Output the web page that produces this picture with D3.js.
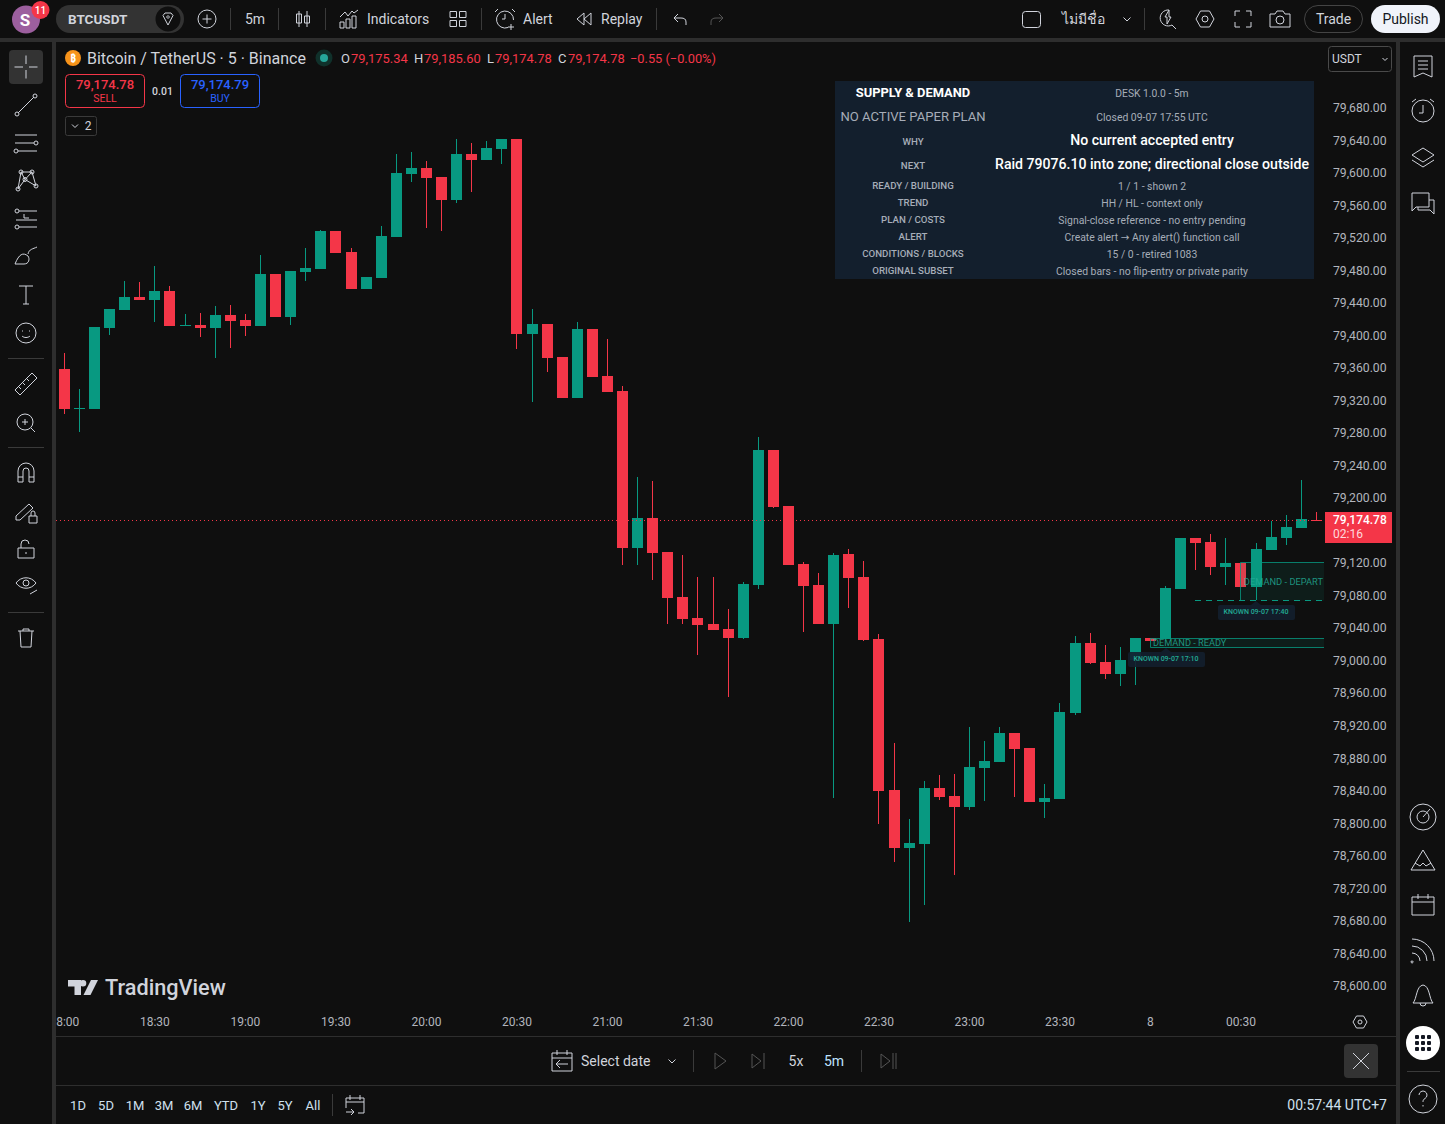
<!DOCTYPE html>
<html>
<head>
<meta charset="utf-8">
<script src="https://cdn.jsdelivr.net/npm/d3@7"></script>
<style>
html, body { margin: 0; padding: 0; background: #0f0f0f; overflow: hidden; }
svg { display: block; font-family: Roboto, "Noto Sans", "DejaVu Sans", sans-serif; }
.icon { fill: none; stroke: #d1d4dc; stroke-width: 1; }
.axis path, .axis line { display: none; }
</style>
</head>
<body>
<div id="chart"></div>
<script>
// BTCUSDT 5m bars, 18:00 to 00:55
const openPrices = [79361.1, 79311.9, 79311.9, 79411.6, 79433.7, 79449.7, 79446, 79457.1, 79414, 79415.3, 79411.6, 79427.6, 79421.4, 79414, 79478, 79425.1, 79480.4, 79484.1, 79530.9, 79505, 79459.5, 79473.1, 79523.5, 79601, 79608.4, 79597.3, 79569, 79625.6, 79618.2, 79631.7, 79644, 79404.2, 79416.5, 79375.9, 79325.5, 79410.3, 79352.5, 79334.1, 79141, 79177.9, 79136, 79080.7, 79054.9, 79047.5, 79041.3, 79030.3, 79095.5, 79261.5, 79192.6, 79121.3, 79095.5, 79047.5, 79133.6, 79105.3, 79029, 78843.3, 78772, 78776.9, 78845.8, 78835.9, 78822.4, 78870.4, 78877.7, 78913.4, 78895, 78828.5, 78832.2, 78938, 79024.1, 79000.7, 78986, 79003.2, 79030.3, 79029, 79090.5, 79153.3, 79148.3, 79117.6, 79122.5, 79093, 79138.5, 79153.3, 79165.6, 79175.34];
const highPrices = [79380.8, 79336.5, 79412.8, 79434.9, 79469.4, 79468.1, 79487.8, 79463.2, 79428.8, 79430, 79438.6, 79439.9, 79428.8, 79501.4, 79478, 79481.7, 79510, 79532.1, 79530.9, 79510, 79474.3, 79537, 79625.6, 79628, 79617, 79597.3, 79644, 79639.1, 79641.6, 79644, 79644, 79434.9, 79416.5, 79375.9, 79418.9, 79410.3, 79398, 79340.2, 79228.3, 79223.4, 79136, 79132.4, 79105.3, 79105.3, 79065.9, 79099.1, 79277.5, 79261.5, 79192.6, 79123.7, 79110.2, 79134.8, 79139.7, 79125, 79035.2, 78901.1, 78807.6, 78854.4, 78861.8, 78863, 78920.8, 78903.6, 78920.8, 78913.4, 78895, 78850.7, 78950.3, 79032.7, 79036.4, 79021.7, 79019.2, 79030.3, 79030.3, 79094.2, 79153.3, 79153.3, 79158.2, 79153.3, 79122.5, 79147.1, 79174.2, 79181.6, 79224.6, 79185.6];
const lowPrices = [79305.8, 79283.6, 79311.9, 79403, 79433.7, 79446, 79418.9, 79414, 79414, 79400.5, 79374.7, 79387, 79401.7, 79414, 79425.1, 79415.3, 79469.4, 79484.1, 79503.8, 79459.5, 79459.5, 79473.1, 79523.5, 79591.1, 79534.6, 79530.9, 79565.3, 79578.8, 79618.2, 79613.3, 79385.7, 79320.5, 79357.4, 79325.5, 79325.5, 79351.3, 79332.8, 79120, 79120, 79101.6, 79047.5, 79047.5, 79009.4, 79040.1, 78957.7, 79029, 79090.5, 79190.2, 79120, 79037.6, 79047.5, 78833.5, 79067.2, 79026.6, 78801.5, 78754.7, 78680.9, 78701.9, 78831, 78738.8, 78818.7, 78829.8, 78877.7, 78834.7, 78828.5, 78808.9, 78832.2, 78935.6, 78998.3, 78979.8, 78971.2, 78972.5, 79026.6, 79029, 79090.5, 79113.9, 79107.8, 79095.5, 79093, 79077, 79138.5, 79144.7, 79165.6, 79174.78];
const closePrices = [79311.9, 79313.2, 79412.8, 79434.9, 79449.7, 79446, 79457.1, 79414, 79415.3, 79411.6, 79427.6, 79420.2, 79414, 79478, 79425.1, 79481.7, 79485.4, 79530.9, 79503.8, 79459.5, 79474.3, 79524.7, 79602.2, 79608.4, 79596.1, 79569, 79625.6, 79618.2, 79633, 79644, 79404.2, 79416.5, 79374.7, 79325.5, 79410.3, 79351.3, 79332.8, 79141, 79177.9, 79134.8, 79079.5, 79053.6, 79046.3, 79040.1, 79030.3, 79096.7, 79261.5, 79191.4, 79120, 79094.2, 79047.5, 79132.4, 79104.1, 79027.8, 78842.1, 78772, 78778.1, 78845.8, 78834.7, 78822.4, 78871.6, 78879, 78913.4, 78893.7, 78828.5, 78833.5, 78939.2, 79024.1, 78999.5, 78986, 79003.2, 79030.3, 79026.6, 79091.8, 79153.3, 79147.1, 79117.6, 79122.5, 79093, 79139.7, 79154.5, 79166.8, 79176.6, 79174.78];

// 79,160 sits under the last price tag, so it is not listed
const priceTicks = [79680, 79640, 79600, 79560, 79520, 79480, 79440, 79400, 79360, 79320, 79280, 79240, 79200, 79120, 79080, 79040, 79000, 78960, 78920, 78880, 78840, 78800, 78760, 78720, 78680, 78640, 78600];
const timeTickBars = [0, 6, 12, 18, 24, 30, 36, 42, 48, 54, 60, 66, 72, 78];
const timeTickLabels = ['18:00', '18:30', '19:00', '19:30', '20:00', '20:30', '21:00', '21:30', '22:00', '22:30', '23:00', '23:30', '8', '00:30'];
const lastPrice = 79174.78;

// zones read from the indicator
const zoneNames = ['DEMAND - DEPART', 'DEMAND - READY'];
const zoneTops = [79123.4, 79029.9];
const zoneBottoms = [79076.1, 79018.3];
const zoneStartBars = [78, 72];
const zoneKnownLabels = ['KNOWN 09-07 17:40', 'KNOWN 09-07 17:10'];
const zoneKnownBars = [79, 73];

const deskLeft = ['NO ACTIVE PAPER PLAN', 'WHY', 'NEXT', 'READY / BUILDING', 'TREND', 'PLAN / COSTS', 'ALERT', 'CONDITIONS / BLOCKS', 'ORIGINAL SUBSET'];
const deskRight = ['Closed 09-07 17:55 UTC', 'No current accepted entry', 'Raid 79076.10 into zone; directional close outside', '1 / 1 - shown 2', 'HH / HL - context only', 'Signal-close reference - no entry pending', 'Create alert → Any alert() function call', '15 / 0 - retired 1083', 'Closed bars - no flip-entry or private parity'];
const deskRowY = [116, 141, 165, 185, 202, 219, 236, 253, 270];

const rangeLabels = ['1D', '5D', '1M', '3M', '6M', 'YTD', '1Y', '5Y', 'All'];
const rangeLabelX = [78, 106, 135, 164, 193, 226, 258, 285, 313];

const UP = '#089981', DOWN = '#f43648', TEXT = '#d1d4dc', LINE = '#2e2e2e';

const svg = d3.select('#chart').append('svg')
    .attr('width', 1445).attr('height', 1124);

function label(g, x, y, s, size, fill, anchor, weight) {
    return g.append('text')
        .attr('x', x).attr('y', y)
        .attr('dy', '0.35em')
        .attr('font-size', size)
        .attr('fill', fill || TEXT)
        .attr('text-anchor', anchor || 'start')
        .attr('font-weight', weight || 400)
        .text(s);
}

function icon(g, x, y, d, color, width) {
    const p = g.append('path')
        .attr('class', 'icon')
        .attr('transform', `translate(${x},${y})`)
        .attr('d', d);
    if (color) p.style('stroke', color);
    if (width) p.style('stroke-width', width);
    return p;
}

function ring(cx, cy, r) {
    return `M${cx - r},${cy}a${r},${r} 0 1 0 ${2 * r},0a${r},${r} 0 1 0 ${-2 * r},0`;
}

function sep(g, x1, y1, x2, y2) {
    g.append('line').attr('x1', x1).attr('y1', y1).attr('x2', x2).attr('y2', y2)
        .attr('stroke', '#3a3a3a').attr('shape-rendering', 'crispEdges');
}

// panel gaps
svg.append('rect').attr('width', 1445).attr('height', 1124).attr('fill', '#0f0f0f');
svg.append('rect').attr('y', 38).attr('width', 1445).attr('height', 4).attr('fill', LINE);
svg.append('rect').attr('x', 52).attr('y', 42).attr('width', 4).attr('height', 1082).attr('fill', LINE);
svg.append('rect').attr('x', 1396).attr('y', 42).attr('width', 4).attr('height', 1082).attr('fill', LINE);
svg.append('rect').attr('x', 56).attr('y', 1036).attr('width', 1340).attr('height', 1).attr('fill', LINE);
svg.append('rect').attr('x', 56).attr('y', 1085).attr('width', 1340).attr('height', 1).attr('fill', LINE);

// chart
const x = d3.scaleLinear().domain([0, 83]).range([64.4, 1316.4]);
const y = d3.scaleLinear().domain([78600, 79680]).range([987.8, 109.8]);
const bars = openPrices.map((o, i) => ({ i, o, h: highPrices[i], l: lowPrices[i], c: closePrices[i] }));

svg.append('clipPath').attr('id', 'plot').append('rect')
    .attr('x', 56).attr('y', 42).attr('width', 1268).attr('height', 960);
svg.append('clipPath').attr('id', 'timeClip').append('rect')
    .attr('x', 56).attr('y', 1005).attr('width', 1268).attr('height', 30);

const plot = svg.append('g').attr('clip-path', 'url(#plot)');

const candle = plot.append('g').selectAll('g').data(bars).enter().append('g')
    .attr('fill', d => d.c >= d.o ? UP : DOWN)
    .attr('shape-rendering', 'crispEdges');
candle.append('rect')
    .attr('x', d => Math.floor(x(d.i)))
    .attr('y', d => Math.round(y(d.h)))
    .attr('width', 1)
    .attr('height', d => Math.round(y(d.l)) - Math.round(y(d.h)));
candle.append('rect')
    .attr('x', d => Math.floor(x(d.i)) - 5)
    .attr('y', d => Math.round(y(Math.max(d.o, d.c))))
    .attr('width', 11)
    .attr('height', d => Math.max(1, Math.round(y(Math.min(d.o, d.c))) - Math.round(y(Math.max(d.o, d.c)))));

// last price line
plot.append('line')
    .attr('x1', 56).attr('x2', 1324)
    .attr('y1', Math.floor(y(lastPrice)) + 0.5).attr('y2', Math.floor(y(lastPrice)) + 0.5)
    .attr('stroke', DOWN).attr('stroke-dasharray', '1 3')
    .attr('shape-rendering', 'crispEdges');

// zones
zoneNames.forEach((name, k) => {
    const x0 = Math.floor(x(zoneStartBars[k])) + 0.5;
    const y0 = Math.floor(y(zoneTops[k])) + 0.5;
    const y1 = Math.floor(y(zoneBottoms[k])) + 0.5;
    plot.append('rect').attr('x', x0).attr('y', y0).attr('width', 1324 - x0).attr('height', y1 - y0)
        .attr('fill', UP).attr('fill-opacity', 0.1);
    plot.append('path')
        .attr('d', k === 0 ? `M${x0},${y1}V${y0}H1324` : `M1324,${y1}H${x0}V${y0}H1324`)
        .attr('fill', 'none').attr('stroke', UP).attr('stroke-opacity', 0.8);
    if (k === 0) {
        plot.append('line').attr('x1', Math.floor(x(75))).attr('x2', 1324).attr('y1', y1).attr('y2', y1)
            .attr('stroke', UP).attr('stroke-dasharray', '6 5');
        label(plot, 1323, (y0 + y1) / 2, name, 9.3, '#22ab94', 'end').attr('fill-opacity', 0.85);
    } else {
        label(plot, 1153, (y0 + y1) / 2 - 0.5, name, 9.2, '#22ab94').attr('fill-opacity', 0.85);
    }
    const cx = Math.floor(x(zoneKnownBars[k])) + k;
    const by = y1 + 4.5;
    plot.append('path')
        .attr('d', `M${cx - 5},${by}L${cx},${by - 4}L${cx + 5},${by}Z`)
        .attr('fill', '#131f2d').attr('fill-opacity', 0.9);
    plot.append('rect').attr('x', cx - 38).attr('y', by).attr('width', 77).attr('height', 15).attr('rx', 2)
        .attr('fill', '#131f2d').attr('fill-opacity', 0.9);
    label(plot, cx, by + 7, zoneKnownLabels[k], 7, '#22ab94', 'middle', 500);
});

// desk table
const desk = svg.append('g');
desk.append('rect').attr('x', 835).attr('y', 81).attr('width', 479).attr('height', 198).attr('fill', '#131f2d');
label(desk, 913, 92, 'SUPPLY & DEMAND', 12.9, '#ffffff', 'middle', 700);
label(desk, 1152, 93.5, 'DESK 1.0.0 - 5m', 10.3, '#a6adb8', 'middle');
deskLeft.forEach((s, i) => {
    label(desk, 913, deskRowY[i] + (i === 0 ? 0 : 0.5), s, i === 0 ? 13.1 : 9.7, '#a6adb8', 'middle', i === 0 ? 400 : 500);
});
deskRight.forEach((s, i) => {
    const big = i === 1 || i === 2;
    label(desk, 1152, deskRowY[i] + (big ? -0.5 : 1), s, big ? 14.1 : 10.4, big ? '#ffffff' : '#a6adb8', 'middle', big ? 500 : 400);
});

// price axis
const yAxis = svg.append('g').attr('class', 'axis')
    .attr('transform', 'translate(1333,0)')
    .call(d3.axisRight(y).tickValues(priceTicks).tickSize(0).tickPadding(0).tickFormat(d3.format(',.2f')));
yAxis.selectAll('text').attr('font-family', 'Roboto').attr('font-size', 12.2).attr('fill', '#b2b5bd').attr('dy', '0.15em');
yAxis.select('.domain').remove();

// time axis
const xAxis = svg.append('g').attr('clip-path', 'url(#timeClip)').append('g').attr('class', 'axis')
    .attr('transform', 'translate(-0.5,1017)')
    .call(d3.axisBottom(x).tickValues(timeTickBars).tickSize(0).tickPadding(0)
        .tickFormat((d, i) => timeTickLabels[i]));
xAxis.selectAll('text').attr('font-family', 'Roboto').attr('font-size', 12).attr('fill', '#b2b5bd');
xAxis.select('.domain').remove();

// price labels
const tag = svg.append('g');
tag.append('rect').attr('x', 1325).attr('y', 512).attr('width', 67).attr('height', 31).attr('fill', DOWN);
label(tag, 1333, 519.5, d3.format(',.2f')(lastPrice), 12, '#ffffff', 'start', 500);
label(tag, 1333, 534, '02:16', 12, '#ffd9dc');
tag.append('rect').attr('x', 1328.5).attr('y', 46.5).attr('width', 63).attr('height', 25).attr('rx', 3)
    .attr('fill', '#0f0f0f').attr('stroke', '#4a4a4a');
label(tag, 1332, 59, 'USDT', 12, TEXT);
icon(tag, 1385, 59, 'M-2.5,-1L0,1.5L2.5,-1');

// legend
const legend = svg.append('g');
legend.append('circle').attr('cx', 73).attr('cy', 58).attr('r', 8).attr('fill', '#f7931a');
label(legend, 73, 58, '₿', 10, '#ffffff', 'middle', 700);
label(legend, 87, 58.5, 'Bitcoin / TetherUS · 5 · Binance', 16, TEXT);
legend.append('circle').attr('cx', 324).attr('cy', 58).attr('r', 8.5).attr('fill', '#10312b');
legend.append('circle').attr('cx', 324).attr('cy', 58).attr('r', 4).attr('fill', '#26a69a');
const legendX = [341, 414, 487, 558];
const legendNames = ['O', 'H', 'L', 'C'];
const legendValues = [openPrices[83], highPrices[83], lowPrices[83], closePrices[83]];
legendNames.forEach((n, i) => {
    label(legend, legendX[i], 58.5, n, 13, TEXT);
    label(legend, legendX[i] + (n === 'L' ? 8 : 10), 58.5, d3.format(',.2f')(legendValues[i]), 12.9, DOWN);
});
label(legend, 630, 58.5, '−0.55 (−0.00%)', 12.8, DOWN);

// order buttons
const order = svg.append('g');
order.append('rect').attr('x', 65.5).attr('y', 74.5).attr('width', 79).attr('height', 33).attr('rx', 4)
    .attr('fill', 'none').attr('stroke', DOWN);
label(order, 105, 84, '79,174.78', 13, DOWN, 'middle', 500);
label(order, 105, 98, 'SELL', 10.5, DOWN, 'middle');
label(order, 162.5, 91, '0.01', 10.5, TEXT, 'middle', 500);
order.append('rect').attr('x', 180.5).attr('y', 74.5).attr('width', 79).attr('height', 33).attr('rx', 4)
    .attr('fill', 'none').attr('stroke', '#2962ff');
label(order, 220, 84, '79,174.79', 13, '#2962ff', 'middle', 500);
label(order, 220, 98, 'BUY', 10.5, '#2962ff', 'middle');
order.append('rect').attr('x', 65.5).attr('y', 116.5).attr('width', 31).attr('height', 19).attr('rx', 2)
    .attr('fill', 'none').attr('stroke', '#3a3a3a');
icon(order, 75, 126, 'M-3,-1.5L0,1.5L3,-1.5');
label(order, 88, 126, '2', 12, TEXT, 'middle');

// TradingView mark
const wm = svg.append('g');
wm.append('path').attr('transform', 'translate(68,980)')
    .attr('d', 'M0,0H13V15H6.5V6.5H0ZM15,0a3.3,3.3 0 1 1 0,6.6a3.3,3.3 0 1 1 0,-6.6ZM23,0H30L22.5,15H15.5Z')
    .attr('fill', TEXT);
label(wm, 105, 987, 'TradingView', 21.7, TEXT, 'start', 500);

// top bar
const topBar = svg.append('g');
topBar.append('circle').attr('cx', 26).attr('cy', 19.5).attr('r', 14).attr('fill', '#9c5f9e');
label(topBar, 25, 20, 'S', 17, '#ffffff', 'middle', 700);
topBar.append('circle').attr('cx', 40.5).attr('cy', 10).attr('r', 9).attr('fill', DOWN);
label(topBar, 40.5, 10, '11', 10, '#ffffff', 'middle', 500);
topBar.append('rect').attr('x', 56).attr('y', 5).attr('width', 128).attr('height', 28).attr('rx', 14).attr('fill', '#333333');
label(topBar, 68, 19, 'BTCUSDT', 13.5, TEXT, 'start', 700);
topBar.append('circle').attr('cx', 168).attr('cy', 19).attr('r', 12.5).attr('fill', '#0f0f0f');
icon(topBar, 168, 19, 'M-5,-3.5L-3,-6H3L5,-3.5L0,6ZM-1.5,-2L0,-0.5L1.5,-2L0,-3.5Z');
icon(topBar, 207, 19, 'M-9,0a9,9 0 1 0 18,0a9,9 0 1 0 -18,0M-4.5,0H4.5M0,-4.5V4.5');
[230, 278, 325, 481, 656, 1144].forEach(sx => sep(topBar, sx + 0.5, 8, sx + 0.5, 30));
label(topBar, 255, 19, '5m', 14, TEXT, 'middle');
icon(topBar, 303, 19, 'M-4,-8V8M-6.5,-5H-1.5V4H-6.5ZM4,-8V8M1.5,-3H6.5V4H1.5Z');
icon(topBar, 349, 19, 'M-9,9V3H-5V9ZM-3,9V0H1V9ZM3,9V-3H7V9ZM-9,-2L-4,-7L-1,-3L3,-8L5,-6L9,-9');
label(topBar, 367, 19, 'Indicators', 14, TEXT);
icon(topBar, 458, 19, 'M-8,-7.5h6.5v6h-6.5ZM1.5,-7.5h6.5v6h-6.5ZM-8,1.5h6.5v6h-6.5ZM1.5,1.5h6.5v6h-6.5Z');
icon(topBar, 505, 19, 'M3,8.5A8.5,8.5 0 1 1 8.5,1M0,-5V0H-3M-7,-10L-10,-7M7,-10L10,-7M6,5V11M3,8H9');
label(topBar, 523, 19, 'Alert', 14, TEXT);
icon(topBar, 584, 19, 'M0,-6L-7,0L0,6ZM7,-6L0,0L7,6Z');
label(topBar, 601, 19, 'Replay', 14, TEXT);
icon(topBar, 680, 19, 'M6,6V3C6,0 4,-1 1,-1H-6M-2,-5L-6,-1L-2,3');
icon(topBar, 717, 19, 'M-6,6V3C-6,0 -4,-1 -1,-1H6M2,-5L6,-1L2,3', '#555555');
topBar.append('rect').attr('x', 1022.5).attr('y', 11.5).attr('width', 18).attr('height', 16).attr('rx', 3)
    .attr('fill', 'none').attr('stroke', TEXT);
label(topBar, 1062, 19, 'ไม่มีชื่อ', 14, TEXT);
icon(topBar, 1127, 19, 'M-3.5,-1.5L0,2L3.5,-1.5');
icon(topBar, 1166, 19, 'M3,-9A8,8 0 1 0 6,6L10,10M-1,-2L3,-9V-2H5L1,5V-2Z');
icon(topBar, 1205, 19, 'M-9,0L-4.5,-8H4.5L9,0L4.5,8H-4.5ZM-3,0a3,3 0 1 0 6,0a3,3 0 1 0 -6,0');
icon(topBar, 1243, 19, 'M-8,-3V-8H-3M3,-8H8V-3M8,3V8H3M-3,8H-8V3');
icon(topBar, 1280, 19, 'M-10,-5H-5L-3,-8H3L5,-5H10V8H-10ZM-4,1a4,4 0 1 0 8,0a4,4 0 1 0 -8,0');
topBar.append('rect').attr('x', 1304.5).attr('y', 5.5).attr('width', 58).attr('height', 27).attr('rx', 13.5)
    .attr('fill', 'none').attr('stroke', '#444444');
label(topBar, 1333.5, 19, 'Trade', 14, TEXT, 'middle');
topBar.append('rect').attr('x', 1371).attr('y', 5).attr('width', 69).attr('height', 28).attr('rx', 14).attr('fill', '#f0f3fa');
label(topBar, 1405.5, 19, 'Publish', 14, '#131722', 'middle');

// left tools
const leftBar = svg.append('g');
leftBar.append('rect').attr('x', 9).attr('y', 50).attr('width', 34).attr('height', 34).attr('rx', 4).attr('fill', '#333333');
icon(leftBar, 26, 67, 'M-11.5,0H-3M3,0H11.5M0,-11.5V-3M0,3V11.5');
icon(leftBar, 26, 105, 'M-8,8L8,-8' + ring(-9, 9, 2) + ring(9, -9, 2));
icon(leftBar, 26, 143, 'M-11,-8H11M-11,0H8M-8,8H11' + ring(10, 0, 2) + ring(-10, 8, 2));
icon(leftBar, 26, 180, 'M-5,-8L-1,-0.5L6,-8L10,6L-1,-0.5L-8,9L-5,-8M-5,-8H6' + ring(-5, -8, 2) + ring(6, -8, 2) + ring(-8, 9, 2) + ring(10, 6, 2) + ring(-1, -0.5, 2));
icon(leftBar, 26, 219, 'M-7,-8H11M-10,1H11M-7,8H11M-2,-5V-1H3' + ring(-9, -8, 2) + ring(-9, 8, 2));
icon(leftBar, 26, 257, 'M-11,7C-7,-3 -3,-5 2,-1C4,2 3,7 -2,7ZM2,-3C3,-8 7,-8 11,-10');
icon(leftBar, 26, 295, 'M-7,-9H7M0,-9V9M-3,9H3');
icon(leftBar, 26, 333, 'M-10,0a10,10 0 1 0 20,0a10,10 0 1 0 -20,0M-4,-2h1M3,-2h1M-4,3C-2,5 2,5 4,3');
sep(leftBar, 8, 358.5, 44, 358.5);
icon(leftBar, 26, 384, 'M-11,6L6,-11L11,-6L-6,11ZM-7,3L-5,5M-3,-1L-1,1M1,-5L3,-3');
icon(leftBar, 26, 422, 'M-9,0a8,8 0 1 0 16,0a8,8 0 1 0 -16,0M-4,0H2M-1,-3V3M5,6L9,10');
sep(leftBar, 8, 447.5, 44, 447.5);
icon(leftBar, 26, 473, 'M-8,9V-2a8,8 0 0 1 16,0V9H3V-2a3,3 0 0 0 -6,0V9ZM-8,4H-3M3,4H8');
icon(leftBar, 26, 512, 'M-10,4L3,-8L7,-4L-6,8H-10ZM3,4H11V11H3ZM5,4V1a2,2 0 0 1 4,0V4');
icon(leftBar, 26, 549, 'M-8,-1H8V9H-8ZM-5,-1V-5a4,4 0 0 1 8,0M0,3V5');
icon(leftBar, 26, 585, 'M-10,-2C-5,-9 5,-9 10,-2C5,5 -5,5 -10,-2ZM-3,-2a3,3 0 1 0 6,0a3,3 0 1 0 -6,0M4,9L11,5');
sep(leftBar, 8, 612.5, 44, 612.5);
icon(leftBar, 26, 638, 'M-8,-7H8M-6,-7L-5,9H5L6,-7M-3,-7V-9H3V-7');

// right tools
const rightBar = svg.append('g');
icon(rightBar, 1423, 66, 'M-9,-10H9V11L0,7L-9,11ZM-5,-5H5M-5,-1H5M-5,3H5');
icon(rightBar, 1423, 110, 'M-11,1a11,11 0 1 0 22,0a11,11 0 1 0 -22,0M0,-5V3H-4M-11,-8L-7,-11M11,-8L7,-11');
icon(rightBar, 1423, 157, 'M-11,-2L0,-9L11,-2L0,5ZM-11,3L0,10L11,3');
icon(rightBar, 1423, 203, 'M-11,-10H6V4H-7L-11,8ZM6,-3H11V11L7,7H-5V4');
icon(rightBar, 1423, 817, 'M-13,0a13,13 0 1 0 26,0a13,13 0 1 0 -26,0M-6,0a6,6 0 1 0 12,0a6,6 0 1 0 -12,0M0,0L7,-8');
icon(rightBar, 1423, 860, 'M-12,10L0,-10L12,10ZM-8,3L-3,6L0,3L3,6L8,3');
icon(rightBar, 1423, 905, 'M-11,-8H11V10H-11ZM-11,-3H11M-5,-11V-6M5,-11V-6');
icon(rightBar, 1423, 950, 'M-11,11a1,1 0 1 0 0.1,0M-11,3A8,8 0 0 1 -3,11M-11,-4A15,15 0 0 1 4,11M-11,-11A22,22 0 0 1 11,11');
icon(rightBar, 1423, 996, 'M-10,7C-6,3 -7,-10 0,-11C7,-10 6,3 10,7ZM-3,7a3,3 0 0 0 6,0');
rightBar.append('circle').attr('cx', 1423).attr('cy', 1043).attr('r', 17).attr('fill', '#ffffff');
rightBar.append('g').selectAll('rect').data(d3.range(9)).enter().append('rect')
    .attr('x', d => 1423 - 8 + (d % 3) * 6).attr('y', d => 1043 - 8 + Math.floor(d / 3) * 6)
    .attr('width', 4).attr('height', 4).attr('rx', 1).attr('fill', '#131722');
sep(rightBar, 1407, 1071.5, 1440, 1071.5);
icon(rightBar, 1423, 1099, 'M-14,0a14,14 0 1 0 28,0a14,14 0 1 0 -28,0M-4,-4a4,4 0 1 1 6,3.5C0,0.5 0,2 0,3M0,6v1.5');

// bottom bars
const replayBar = svg.append('g');
icon(replayBar, 1360, 1022, 'M-7,0L-3.5,-6H3.5L7,0L3.5,6H-3.5ZM-2,0a2,2 0 1 0 4,0a2,2 0 1 0 -4,0');
icon(replayBar, 562, 1061, 'M-10,-8H10V10H-10ZM-10,-3H10M-5,-11V-6M5,-11V-6M6,3H-6M-2,-1L-6,3L-2,7');
label(replayBar, 581, 1061, 'Select date', 14, TEXT);
icon(replayBar, 672, 1061, 'M-3.5,-1.5L0,2L3.5,-1.5');
sep(replayBar, 693.5, 1050, 693.5, 1072);
icon(replayBar, 720, 1061, 'M-5,-8L6,0L-5,8Z', '#555555');
icon(replayBar, 758, 1061, 'M-6,-7L3,0L-6,7ZM6,-8V8', '#555555');
label(replayBar, 796, 1061, '5x', 14, TEXT, 'middle');
label(replayBar, 834, 1061, '5m', 14, '#bfe3ff', 'middle');
sep(replayBar, 861.5, 1050, 861.5, 1072);
icon(replayBar, 889, 1061, 'M-8,-7L1,0L-8,7ZM4,-8V8M7,-8V8', '#555555');
replayBar.append('rect').attr('x', 1344).attr('y', 1044).attr('width', 34).attr('height', 34).attr('rx', 4).attr('fill', '#333333');
icon(replayBar, 1361, 1061, 'M-8,-8L8,8M8,-8L-8,8');

const rangeBar = svg.append('g');
rangeLabels.forEach((s, i) => label(rangeBar, rangeLabelX[i], 1105, s, 13, '#cfe0ee', 'middle'));
sep(rangeBar, 332.5, 1094, 332.5, 1116);
icon(rangeBar, 355, 1105, 'M-9,3V-7H9V8H3M-9,-3H9M-5,-10V-5M5,-10V-5M-9,7H-1M-4,4L-1,7L-4,10');
label(rangeBar, 1387, 1105, '00:57:44 UTC+7', 14, '#cfe0ee', 'end');
</script>
</body>
</html>
